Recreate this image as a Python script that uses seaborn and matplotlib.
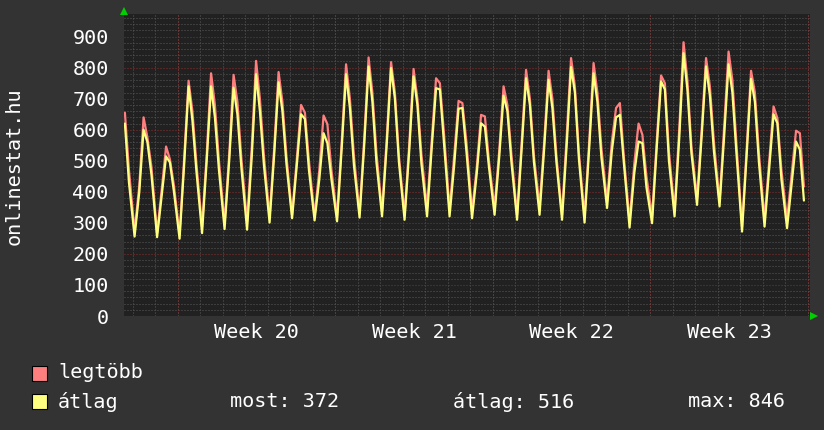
import numpy as np
import pandas as pd
import matplotlib
matplotlib.use("Agg")
import matplotlib.pyplot as plt
from matplotlib.patches import Rectangle
import seaborn as sns

# one daily cycle per entry, days counted from the Monday that opens week 20
days = list(range(-3, 28))
phases = [0.07, 0.28, 0.47, 0.64, 0.82]  # trough, rise, peak, shoulder, fall

nan = np.nan
max_trough = [nan, 272, 267, 262, 288, 299, 304, 320, 326, 321, 321, 331, 337, 326, 348, 342,
              337, 348, 326, 353, 326, 321, 369, 305, 321, 337, 380, 369, 288, 310, 310]
max_rise = [nan, 420, 410, 515, 525, 525, 545, 545, 505, 470, 565, 575, 575, 555, 565, 520,
            480, 535, 565, 565, 585, 565, 560, 490, 565, 605, 605, 615, 545, 500, 460]
max_peak = [nan, 640, 546, 758, 782, 777, 822, 786, 680, 646, 811, 833, 818, 796, 766, 693,
            648, 740, 793, 790, 831, 815, 670, 620, 775, 882, 831, 852, 790, 675, 597]
max_shoulder = [655, 575, 505, 660, 680, 690, 700, 690, 655, 618, 700, 720, 720, 700, 750, 686,
                643, 680, 700, 700, 740, 720, 686, 584, 750, 760, 740, 760, 720, 637, 589]
max_fall = [470, 480, 420, 490, 500, 505, 515, 515, 500, 470, 515, 525, 515, 520, 590, 560,
            500, 520, 515, 515, 525, 540, 510, 450, 530, 545, 560, 555, 525, 470, 417]

avg_trough = [nan, 256, 254, 249, 267, 280, 278, 301, 315, 308, 305, 317, 321, 310, 321, 321,
              315, 326, 310, 326, 310, 301, 348, 285, 299, 321, 358, 353, 272, 288, 283]
avg_rise = [nan, 400, 390, 495, 505, 505, 515, 525, 485, 440, 545, 555, 555, 535, 545, 490,
            460, 515, 545, 545, 555, 545, 530, 460, 545, 575, 585, 585, 525, 480, 430]
avg_peak = [nan, 600, 514, 740, 740, 736, 779, 753, 650, 589, 779, 804, 799, 772, 734, 668,
            621, 710, 766, 761, 802, 782, 640, 562, 756, 847, 804, 811, 764, 650, 562]
avg_shoulder = [620, 560, 495, 630, 640, 650, 660, 660, 635, 557, 670, 690, 700, 680, 730, 670,
                610, 660, 680, 670, 720, 690, 648, 557, 730, 730, 710, 720, 690, 621, 536]
avg_fall = [430, 455, 400, 465, 470, 475, 485, 490, 470, 440, 485, 495, 495, 490, 560, 530,
            480, 495, 495, 495, 505, 510, 490, 415, 500, 525, 530, 525, 495, 440, 372]

week_labels = ["Week 20", "Week 21", "Week 22", "Week 23"]
week_centers = [3.5, 10.5, 17.5, 24.5]
series_names = ["legtöbb", "átlag"]
series_colors = ["#FF7F7F", "#FFFF7F"]
stats = ["most: 372", "átlag: 516", "max: 846"]

t = np.add.outer(np.array(days, dtype=float), phases).ravel()
frames = []
for name, cols in [("legtöbb", [max_trough, max_rise, max_peak, max_shoulder, max_fall]),
                   ("átlag", [avg_trough, avg_rise, avg_peak, avg_shoulder, avg_fall])]:
    vals = np.column_stack(cols).ravel()
    frames.append(pd.DataFrame({"t": t, "value": vals, "series": name}))
df = pd.concat(frames).dropna()

sns.set_style("dark")
plt.rcParams["font.family"] = ["DejaVu Sans Mono"]

W, H = 824, 430
fig = plt.figure(figsize=(W / 100, H / 100), dpi=100, facecolor="#333333")
ax = fig.add_axes([124 / W, 1 - 316 / H, (810 - 124) / W, (316 - 14) / H])
ax.set_facecolor("#212121")

# grid
dot = (0, (1, 2))
for d in range(-2, 29):
    ax.axvline(d, color="#5a5a5a", lw=0.72, ls=dot, zorder=1)
for v in range(20, 980, 20):
    if v % 100:
        ax.axhline(v, color="#5a5a5a", lw=0.72, ls=dot, zorder=1)
for d in [0, 7, 14, 21, 28]:
    ax.axvline(d, color="#8a2e2e", lw=0.72, ls=dot, zorder=1.5)
for v in range(0, 1000, 100):
    ax.axhline(v, color="#8a2e2e", lw=0.72, ls=dot, zorder=1.5)

sns.lineplot(data=df, x="t", y="value", hue="series", hue_order=series_names,
             palette=dict(zip(series_names, series_colors)), estimator=None, sort=True,
             lw=1.6, legend=False, ax=ax, zorder=3)

ax.set_xlim(-2.4, 28.09)
ax.set_ylim(0, 973)
ax.set_xlabel("")
ax.set_ylabel("")
for s in ax.spines.values():
    s.set_visible(False)

ax.set_yticks(range(0, 1000, 100))
ax.set_yticklabels([str(v) for v in range(0, 1000, 100)])
ax.set_xticks(week_centers)
ax.set_xticklabels(week_labels)
ax.tick_params(axis="y", length=0, pad=11, labelsize=14.5, labelcolor="white")
ax.tick_params(axis="x", length=0, pad=5, labelsize=14.5, labelcolor="white")
ax.set_xticks(range(-2, 29), minor=True)
ax.tick_params(axis="x", which="minor", length=2, width=0.8, color="#666666")
ax.grid(False)

# axis arrows
ax.plot([124 / W], [1 - 11 / H], marker="^", color="#00d000", ms=6, mew=0,
        transform=fig.transFigure, clip_on=False)
ax.plot([814 / W], [1 - 315.5 / H], marker=">", color="#00d000", ms=6, mew=0,
        transform=fig.transFigure, clip_on=False)

fig.text(14 / W, 1 - 166 / H, "onlinestat.hu", rotation=90, ha="center", va="center",
         color="white", fontsize=14.5)

# legend
for i, (name, col) in enumerate(zip(series_names, series_colors)):
    yc = 373 + i * 28.5
    fig.patches.append(Rectangle((32 / W, 1 - (yc + 7.5) / H), 15 / W, 15 / H,
                                 transform=fig.transFigure, facecolor=col,
                                 edgecolor="black", lw=0.8))
    fig.text(58 / W, 1 - yc / H, name, ha="left", va="center", color="white", fontsize=14.5)
for x0, s in zip([230, 453, 688], stats):
    fig.text(x0 / W, 1 - 401.5 / H, s, ha="left", va="center", color="white", fontsize=14.5)

fig.savefig("out.png", dpi=100, facecolor=fig.get_facecolor())
